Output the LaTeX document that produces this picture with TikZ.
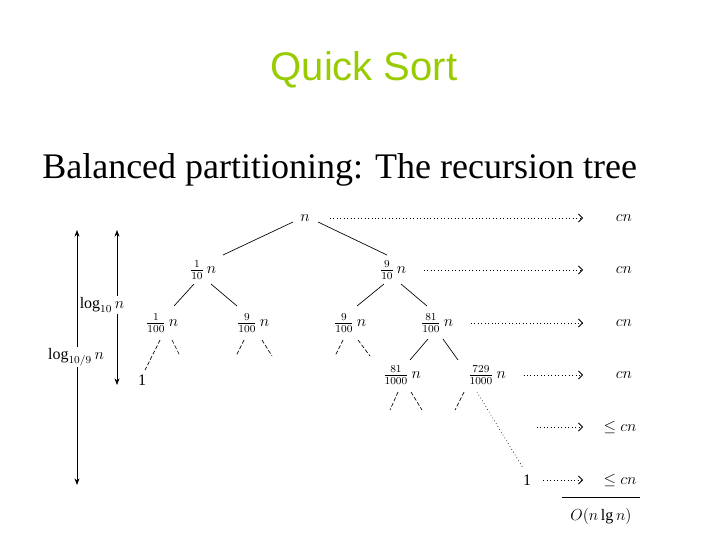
\documentclass[tikz,border=0pt]{standalone}
\usepackage{fontspec}
\setmainfont{Liberation Serif}
\newfontfamily\titlefont{Liberation Sans}
\usetikzlibrary{arrows.meta}
\definecolor{ttl}{RGB}{153,204,0}
\begin{document}
\begin{tikzpicture}[x=0.75pt,y=-0.75pt,
  tn/.style={inner sep=1pt,font=\fontsize{12}{13}\selectfont},
  ed/.style={line width=0.5pt},
  st/.style={line width=0.5pt,dashed,dash pattern=on 3pt off 1.5pt},
  dl/.style={line width=0.6pt,dotted,-{Straight Barb[length=3pt]}},
  rc/.style={inner sep=1pt,font=\fontsize{12}{13}\selectfont}]
\useasboundingbox (0,0) rectangle (728,546);
\fill[white] (0,0) rectangle (728,546);
\node[text=ttl,font=\titlefont\fontsize{30}{34}\selectfont] (title) at (364,70) {Quick Sort};
\node[anchor=west,font=\fontsize{27}{30}\selectfont,inner sep=0] (sub) at (42,170) {Balanced partitioning: The recursion tree};
\node[tn] (r) at (305,218) {$n$};
\node[tn] (a) at (203,270) {$\frac{1}{10}\,n$};
\node[tn] (b) at (393,270) {$\frac{9}{10}\,n$};
\node[tn] (c) at (162,323) {$\frac{1}{100}\,n$};
\node[tn] (d) at (253,323) {$\frac{9}{100}\,n$};
\node[tn] (e) at (350,323) {$\frac{9}{100}\,n$};
\node[tn] (f) at (437,323) {$\frac{81}{100}\,n$};
\node[tn] (g) at (402,375) {$\frac{81}{1000}\,n$};
\node[tn] (h) at (487,375) {$\frac{729}{1000}\,n$};
\node[tn] (l1) at (142,380) {1};
\node[tn] (l2) at (527,480) {1};
\draw[ed] (293,222) -- (223,255);
\draw[ed] (318,222) -- (387,255);
\draw[ed] (194,284) -- (174,306);
\draw[ed] (211,284) -- (237,306);
\draw[ed] (384,284) -- (357,306);
\draw[ed] (401,284) -- (427,306);
\draw[ed] (428,339) -- (410,360);
\draw[ed] (443,339) -- (458,360);
% stubs
\draw[st] (160,340) -- (145,370);
\draw[st] (172,340) -- (180,356);
\draw[st] (244,340) -- (236,356);
\draw[st] (262,340) -- (272,356);
\draw[st] (343,340) -- (335,356);
\draw[st] (358,340) -- (370,356);
\draw[st] (398,392) -- (390,410);
\draw[st] (411,392) -- (422,410);
\draw[st] (464,392) -- (455,410);
\draw[ed,dotted] (477,392) -- (523,468);
% right column
\node[rc] (c1) at (624,218) {$cn$};
\node[rc] (c2) at (624,270) {$cn$};
\node[rc] (c3) at (624,323) {$cn$};
\node[rc] (c4) at (624,375) {$cn$};
\node[rc] (c5) at (620,427) {$\le cn$};
\node[rc] (c6) at (620,480) {$\le cn$};
\coordinate (p5) at (537,427);
\draw[dl] (r.east)++(14pt,0) -- (583,218);
\draw[dl] (b.east)++(12pt,0) -- (583,270);
\draw[dl] (f.east)++(12pt,0) -- (583,323);
\draw[dl] (h.east)++(12pt,0) -- (583,375);
\draw[dl] (p5) -- (583,427);
\draw[dl] (l2.east)++(8pt,0) -- (583,480);
\draw[line width=0.5pt] (562,497) -- (640,497);
\node[rc] (o) at (601,516) {$O(n\lg n)$};
% height arrows
\draw[line width=0.6pt,{Stealth[length=5pt]}-{Stealth[length=5pt]}] (77,230) -- (77,485);
\node[fill=white,inner sep=1pt,font=\fontsize{12}{13}\selectfont] (lg1) at (76,357) {$\log_{10/9} n$};
\draw[line width=0.6pt,{Stealth[length=5pt]}-{Stealth[length=5pt]}] (117,230) -- (117,385);
\node[fill=white,inner sep=1pt,font=\fontsize{12}{13}\selectfont] (lg2) at (102,305) {$\log_{10} n$};
\end{tikzpicture}
\end{document}
